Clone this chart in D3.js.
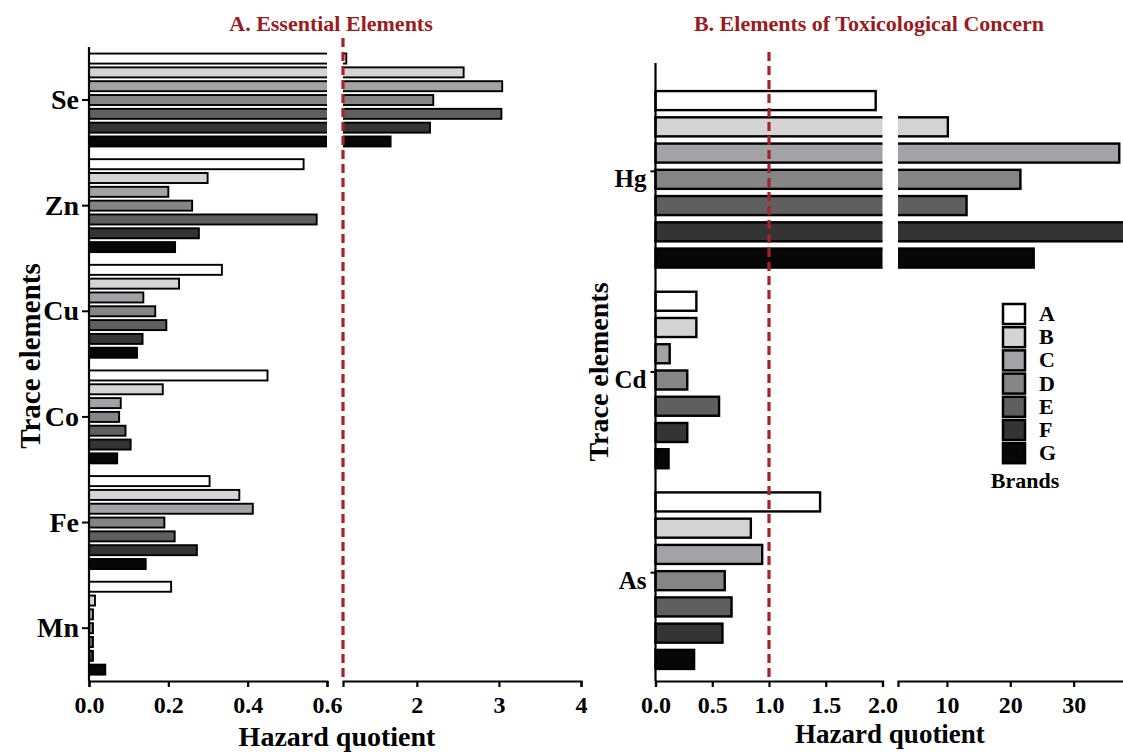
<!DOCTYPE html>
<html>
<head>
<meta charset="utf-8">
<script src="https://d3js.org/d3.v7.min.js"></script>
<style>
  body { margin: 0; background: #fff; }
  text { font-family: "Liberation Serif", serif; font-weight: bold; }
</style>
</head>
<body>
<script>
const brands = ["A", "B", "C", "D", "E", "F", "G"];
const brandColors = ["#ffffff", "#d4d4d4", "#a3a3a7", "#858585", "#5f5f5f", "#343434", "#070707"];

// Panel A: essential elements, hazard quotient per brand (A..G)
const essentialElements = ["Se", "Zn", "Cu", "Co", "Fe", "Mn"];
const essentialHQ = [
  [1.14, 2.57, 3.04, 2.20, 3.03, 2.16, 1.68],
  [0.541, 0.299, 0.200, 0.260, 0.574, 0.277, 0.217],
  [0.335, 0.227, 0.137, 0.167, 0.195, 0.135, 0.121],
  [0.450, 0.186, 0.080, 0.076, 0.092, 0.105, 0.071],
  [0.304, 0.379, 0.413, 0.190, 0.216, 0.272, 0.143],
  [0.207, 0.015, 0.010, 0.010, 0.010, 0.010, 0.041]
];
const essentialTicksLow = [0, 0.2, 0.4, 0.6];
const essentialTicksHigh = [2, 3, 4];

// Panel B: elements of toxicological concern
const toxicElements = ["Hg", "Cd", "As"];
const toxicHQ = [
  [1.94, 10.15, 37.2, 21.6, 13.1, 40, 23.7],
  [0.36, 0.36, 0.125, 0.28, 0.56, 0.28, 0.115],
  [1.45, 0.84, 0.94, 0.61, 0.67, 0.59, 0.34]
];
const toxicTicksLow = [0, 0.5, 1.0, 1.5, 2.0];
const toxicTicksHigh = [10, 20, 30];

const threshold = 1;
const red = "#a8202a";

const svg = d3.select("body").append("svg")
    .attr("width", 1123)
    .attr("height", 752);

const defs = svg.append("defs");

function drawPanel(p) {
  const g = svg.append("g");

  const y = d3.scaleBand().domain(p.elements).range(p.yRange);
  const yIn = d3.scaleBand().domain(brands).range([0, y.bandwidth()])
      .paddingInner(0.275).paddingOuter(0.46);
  const x1 = d3.scaleLinear().domain(p.dom1).range(p.range1);
  const x2 = d3.scaleLinear().domain(p.dom2).range(p.range2);

  defs.append("clipPath").attr("id", p.id + "-c1").append("rect")
      .attr("x", p.range1[0] - 5).attr("y", 0)
      .attr("width", p.range1[1] - p.range1[0] + 5).attr("height", 752);
  defs.append("clipPath").attr("id", p.id + "-c2").append("rect")
      .attr("x", p.range2[0]).attr("y", 0)
      .attr("width", p.range2[1] - p.range2[0] + 3).attr("height", 752);

  const rows = [];
  p.elements.forEach((el, i) => {
    brands.forEach((b, j) => rows.push({ el: el, brand: b, j: j, v: p.values[i][j] }));
  });

  g.append("g").attr("clip-path", "url(#" + p.id + "-c1)")
    .selectAll("rect").data(rows).enter().append("rect")
      .attr("x", x1(0))
      .attr("y", d => y(d.el) + yIn(d.brand))
      .attr("width", d => d.v > p.dom1[1] ? p.range1[1] - x1(0) + 10 : x1(d.v) - x1(0))
      .attr("height", yIn.bandwidth())
      .attr("fill", d => brandColors[d.j])
      .attr("stroke", "#000")
      .attr("stroke-width", p.barStroke);

  g.append("g").attr("clip-path", "url(#" + p.id + "-c2)")
    .selectAll("rect").data(rows.filter(d => d.v > p.dom2[0])).enter().append("rect")
      .attr("x", p.range2[0] - 10)
      .attr("y", d => y(d.el) + yIn(d.brand))
      .attr("width", d => x2(Math.min(d.v, p.dom2[1])) - p.range2[0] + 10 + (d.v > p.dom2[1] ? 10 : 0))
      .attr("height", yIn.bandwidth())
      .attr("fill", d => brandColors[d.j])
      .attr("stroke", "#000")
      .attr("stroke-width", p.barStroke);

  // x axes (broken)
  const axisY = p.yRange[1];
  const ax1 = g.append("g").attr("transform", "translate(0," + axisY + ")")
      .call(d3.axisBottom(x1).tickValues(p.ticks1).tickFormat(d3.format(".1f"))
        .tickSizeInner(6).tickSizeOuter(6).tickPadding(9));
  const ax2 = g.append("g").attr("transform", "translate(0," + axisY + ")")
      .call(d3.axisBottom(x2).tickValues(p.ticks2).tickFormat(d3.format("d"))
        .tickSizeInner(6).tickSizeOuter(6).tickPadding(9));
  [ax1, ax2].forEach(a => {
    a.attr("font-family", null).attr("font-size", null);
    a.selectAll("path, line").attr("stroke", "#000").attr("stroke-width", 2.2);
    a.selectAll("text").attr("font-size", 24).attr("fill", "#000");
  });

  // y axis
  g.append("line")
      .attr("x1", x1(0)).attr("x2", x1(0))
      .attr("y1", p.yTop).attr("y2", axisY)
      .attr("stroke", "#000").attr("stroke-width", 2.2);
  const ay = g.append("g").attr("transform", "translate(" + x1(0) + ",0)")
      .call(d3.axisLeft(y).tickSize(p.yTick).tickPadding(p.yPad));
  ay.attr("font-family", null).attr("font-size", null);
  ay.select(".domain").remove();
  ay.selectAll("line").attr("stroke", "#000").attr("stroke-width", 2)
      .attr("y1", p.yTickShift).attr("y2", p.yTickShift);
  ay.selectAll("text").attr("font-size", p.yFont).attr("fill", "#000");

  // threshold line (HQ = 1)
  const tx = threshold <= p.dom1[1] ? x1(threshold)
      : threshold < p.dom2[0] ? p.range2[0] : x2(threshold);
  g.append("line")
      .attr("x1", tx).attr("x2", tx)
      .attr("y1", p.redTop).attr("y2", axisY)
      .attr("stroke", red).attr("stroke-width", 3.2)
      .attr("stroke-dasharray", "9,5");

  // titles
  g.append("text")
      .attr("x", p.titleX).attr("y", 31)
      .attr("text-anchor", "middle")
      .attr("font-size", 22).attr("fill", "#9b1b20")
      .text(p.title);
  g.append("text")
      .attr("transform", "translate(" + p.yLabelX + "," + p.yLabelY + ") rotate(-90)")
      .attr("text-anchor", "middle").attr("dy", "0.35em")
      .attr("font-size", p.yLabelFont)
      .text("Trace elements");
  g.append("text")
      .attr("x", p.xLabelX).attr("y", p.xLabelBase)
      .attr("text-anchor", "middle")
      .attr("font-size", p.xLabelFont)
      .text("Hazard quotient");
}

drawPanel({
  id: "a",
  elements: essentialElements,
  values: essentialHQ,
  yRange: [47.2, 681], yTop: 47,
  dom1: [0, 0.6], range1: [89, 327],
  dom2: [1.1, 4], range2: [343, 581],
  ticks1: essentialTicksLow, ticks2: essentialTicksHigh,
  barStroke: 1.9,
  yTick: 7, yPad: 3, yTickShift: 0, yFont: 28,
  redTop: 38,
  title: "A. Essential Elements", titleX: 331,
  yLabelX: 30, yLabelY: 356, yLabelFont: 29,
  xLabelX: 337, xLabelBase: 746, xLabelFont: 28
});

drawPanel({
  id: "b",
  elements: toxicElements,
  values: toxicHQ,
  yRange: [79, 681], yTop: 63,
  dom1: [0, 2], range1: [655.5, 882.5],
  dom2: [2.28, 40], range2: [898, 1137],
  ticks1: toxicTicksLow, ticks2: toxicTicksHigh,
  barStroke: 2.4,
  yTick: 5, yPad: 4, yTickShift: -8, yFont: 25,
  redTop: 52,
  title: "B. Elements of Toxicological Concern", titleX: 869,
  yLabelX: 598, yLabelY: 372, yLabelFont: 28,
  xLabelX: 890, xLabelBase: 743, xLabelFont: 27
});

// legend
const legend = svg.append("g").attr("transform", "translate(1003,304)");
const li = legend.selectAll("g").data(brands).enter().append("g")
    .attr("transform", (d, i) => "translate(0," + (i * 23.2) + ")");
li.append("rect")
    .attr("width", 22).attr("height", 20)
    .attr("fill", (d, i) => brandColors[i])
    .attr("stroke", "#000").attr("stroke-width", 2.5);
li.append("text")
    .attr("x", 36).attr("y", 17)
    .attr("font-size", 22)
    .text(d => d);
legend.append("text")
    .attr("x", 22).attr("y", 184)
    .attr("text-anchor", "middle")
    .attr("font-size", 22)
    .text("Brands");
</script>
</body>
</html>
